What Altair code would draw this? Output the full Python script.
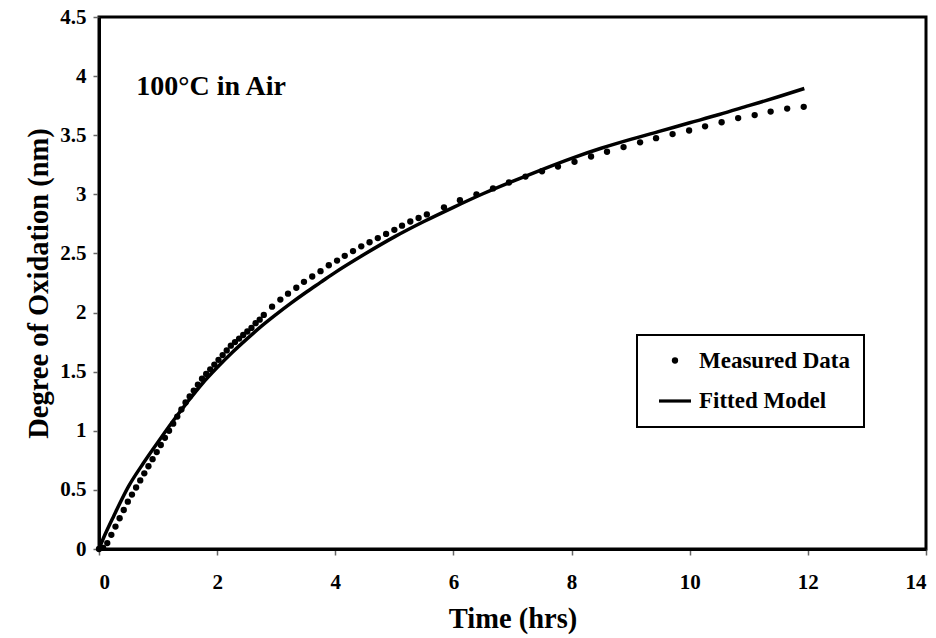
import altair as alt
import pandas as pd

# ---- data ----
meas_t = [0.000, 0.070, 0.140, 0.209, 0.279, 0.349, 0.419, 0.488, 0.558, 0.628,
          0.698, 0.767, 0.837, 0.907, 0.977, 1.046, 1.116, 1.186, 1.256, 1.325,
          1.395, 1.465, 1.535, 1.604, 1.674, 1.744, 1.814, 1.883, 1.953, 2.023,
          2.093, 2.162, 2.232, 2.302, 2.372, 2.441, 2.511, 2.581, 2.651, 2.720,
          2.790,
          2.93, 3.07, 3.20, 3.34, 3.47, 3.61, 3.75, 3.89, 4.03, 4.16,
          4.30, 4.44, 4.58, 4.72, 4.86, 5.00, 5.13, 5.27, 5.41, 5.55,
          5.84, 6.11, 6.39, 6.67, 6.94, 7.22, 7.50, 7.77, 8.05, 8.33,
          8.60, 8.88, 9.16, 9.43, 9.71, 9.99, 10.26, 10.54, 10.82, 11.10,
          11.37, 11.65, 11.93]
meas_y = [0.00, 0.01, 0.05, 0.12, 0.19, 0.26, 0.33, 0.40, 0.46, 0.52,
          0.58, 0.64, 0.70, 0.76, 0.82, 0.88, 0.94, 1.00, 1.06, 1.12,
          1.18, 1.24, 1.29, 1.34, 1.39, 1.44, 1.48, 1.52, 1.56, 1.60,
          1.64, 1.68, 1.72, 1.75, 1.78, 1.81, 1.84, 1.87, 1.91, 1.94,
          1.98,
          2.05, 2.11, 2.16, 2.21, 2.26, 2.305, 2.35, 2.40, 2.44, 2.48,
          2.52, 2.56, 2.595, 2.63, 2.665, 2.70, 2.735, 2.77, 2.80, 2.83,
          2.89, 2.95, 3.00, 3.05, 3.10, 3.15, 3.195, 3.235, 3.275, 3.32,
          3.36, 3.40, 3.44, 3.475, 3.51, 3.54, 3.575, 3.61, 3.645, 3.67,
          3.70, 3.725, 3.74]

fit_t = [0.0, 0.1, 0.25, 0.5, 0.75, 1.0, 1.25, 1.5, 1.75, 2.0, 2.25, 2.5, 2.75,
         3.0, 3.25, 3.5, 3.75, 4.0, 4.5, 5.0, 5.5, 6.0, 6.5, 7.0, 7.5, 8.0, 8.5,
         9.0, 9.5, 10.0, 10.5, 11.0, 11.5, 11.94]
fit_y = [0.0, 0.12, 0.28, 0.53, 0.725, 0.905, 1.08, 1.245, 1.40, 1.535, 1.66, 1.775, 1.885,
         1.985, 2.08, 2.17, 2.255, 2.34, 2.495, 2.64, 2.77, 2.89, 3.005, 3.11, 3.21, 3.305, 3.39,
         3.465, 3.535, 3.605, 3.675, 3.75, 3.825, 3.895]

series_names = ["Measured Data", "Fitted Model"]
x_ticks = [0, 2, 4, 6, 8, 10, 12, 14]
y_ticks = [0, 0.5, 1, 1.5, 2, 2.5, 3, 3.5, 4, 4.5]
note_text = ["100°C in Air"]
note_t = [0.63]
note_y = [3.91]

FONT = "Liberation Serif"
LINE_SYMBOL = "M-1,-0.1H1V0.1H-1Z"

meas = pd.DataFrame({"t": meas_t, "y": meas_y, "series": series_names[0]})
fit = pd.DataFrame({"t": fit_t, "y": fit_y, "series": series_names[1]})
note = pd.DataFrame({"t": note_t, "y": note_y, "label": note_text})

x_enc = alt.X("t:Q", scale=alt.Scale(domain=[0, 14], nice=False, zero=False),
              axis=alt.Axis(values=x_ticks, title="Time (hrs)", format="~g", grid=False,
                            labelPadding=16, titlePadding=12))
y_enc = alt.Y("y:Q", scale=alt.Scale(domain=[0, 4.5], nice=False),
              axis=alt.Axis(values=y_ticks, title="Degree of Oxidation (nm)", format="~g", grid=False,
                            labelPadding=7, titlePadding=6))

legend = alt.Legend(
    title=None, orient="none", legendX=538, legendY=318,
    strokeColor="black", padding=14, symbolOffset=8, rowPadding=12,
    labelFont=FONT, labelFontSize=23, labelFontWeight="bold", labelColor="black",
    labelOffset=8, symbolFillColor="black", symbolStrokeWidth=0,
    labelExpr="datum.label + '\u00a0\u00a0\u00a0\u00a0'",
)

points = alt.Chart(meas).mark_point(
    filled=True, color="black", opacity=1
).encode(
    x=x_enc, y=y_enc,
    shape=alt.Shape("series:N", scale=alt.Scale(domain=series_names, range=["circle", LINE_SYMBOL]),
                    legend=legend),
    size=alt.Size("series:N", scale=alt.Scale(domain=series_names, range=[40, 1024]),
                  legend=legend),
)

line = alt.Chart(fit).mark_line(color="black", strokeWidth=3.5, interpolate="monotone").encode(x=x_enc, y=y_enc)

text = alt.Chart(note).mark_text(
    align="left", baseline="middle", font=FONT, fontSize=28, fontWeight="bold", color="black"
).encode(x="t:Q", y="y:Q", text="label:N")

chart = alt.layer(line, points, text).properties(
    width=827, height=532,
    autosize=alt.AutoSizeParams(type="none"),
    padding={"left": 99, "top": 17, "right": 10, "bottom": 89},
    background="white",
).configure_view(
    stroke="black", strokeWidth=3
).configure_axis(
    labelFont=FONT, labelFontSize=21, labelFontWeight="bold", labelColor="black",
    titleFont=FONT, titleFontSize=28.5, titleFontWeight="bold", titleColor="black",
    domainColor="black", domainWidth=3, tickColor="#666666", tickSize=6, tickWidth=1.5,
).configure_legend(
    strokeWidth=2
)

chart.save("out.html", embed_options={"renderer": "svg", "actions": False})
